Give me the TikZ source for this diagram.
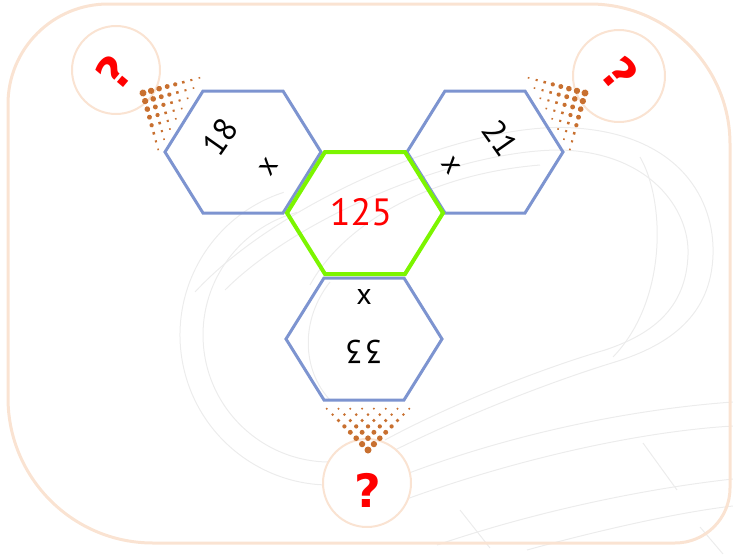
\documentclass[tikz,border=0pt]{standalone}
\usepackage{fontspec}
\setmainfont{PT Sans}
\newfontfamily\qfont{DejaVu Sans}
\definecolor{hexblue}{RGB}{125,148,208}
\definecolor{hexgreen}{RGB}{124,245,0}
\definecolor{peach}{RGB}{250,227,210}
\definecolor{dotbrown}{RGB}{200,112,48}
\definecolor{bggray}{RGB}{236,236,236}
\definecolor{qred}{RGB}{255,0,0}
\tikzset{
  bgline/.style={draw=bggray, line width=1pt},
  bluehex/.style={draw=hexblue, line width=3pt, line join=miter},
  greenhex/.style={draw=hexgreen, line width=4pt, line join=miter},
  qcircle/.style={draw=peach, line width=2pt, fill=white},
  frameline/.style={draw=peach, line width=3pt},
  bignum/.style={font=\fontsize{38}{38}\selectfont, inner sep=0pt},
  numtxt/.style={font=\fontsize{33}{33}\selectfont, inner sep=0pt},
  multxt/.style={font=\fontsize{30}{30}\selectfont, inner sep=0pt},
  qtxt/.style={font=\qfont\bfseries\fontsize{46}{46}\selectfont, text=qred, inner sep=0pt},
}
\newcommand{\dotfan}[3]{%
  \begin{scope}[shift={(#1,#2)}, rotate=#3]
    \foreach \k in {0,...,7}{
      \foreach \j in {0,...,\k}{
        \pgfmathsetmacro{\dx}{5.9*(2*\j-\k)}
        \pgfmathsetmacro{\dy}{-5.9*\k}
        \pgfmathsetmacro{\rr}{3.5-0.34*\k}
        \fill[dotbrown] (\dx,\dy) circle[radius=\rr pt];
      }
    }
  \end{scope}}
\begin{document}
\begin{tikzpicture}[x=1pt,y=-1pt]
\useasboundingbox (0,0) rectangle (733,554);
% background decorative curves
\draw[bgline] (330,335) ++(80:150) arc[start angle=80, end angle=252, radius=150];
\draw[bgline] (330,335) ++(85:127) arc[start angle=85, end angle=255, radius=127];
\draw[bgline] (195,292) .. controls (280,200) and (470,120) .. (575,128) .. controls (680,135) and (715,200) .. (713,255) .. controls (711,315) and (670,345) .. (615,362) .. controls (540,385) and (440,425) .. (360,468);
\draw[bgline] (225,290) .. controls (300,215) and (460,150) .. (560,150) .. controls (650,152) and (690,210) .. (688,255) .. controls (686,310) and (650,335) .. (605,350) .. controls (530,372) and (440,410) .. (385,440);
\draw[bgline] (310,285) .. controls (340,230) and (420,175) .. (540,165);
\draw[bgline] (640,157) .. controls (665,200) and (668,300) .. (613,357);
\draw[bgline] (330,282) .. controls (300,320) and (302,370) .. (330,400);
\draw[bgline] (360,493) .. controls (480,440) and (620,410) .. (733,402);
\draw[bgline] (370,513) .. controls (490,465) and (630,432) .. (733,426);
\draw[bgline] (437,545) .. controls (540,510) and (650,488) .. (733,479);
\draw[bgline] (527,550) .. controls (600,530) and (680,512) .. (733,506);
\draw[bgline] (643,443) -- (677,490);
\draw[bgline] (460,510) -- (490,548);
\draw[bgline] (700,527) -- (723,554);
% frame
\draw[frameline] (8,104) .. controls (8,48.8) and (52.8,4) .. (108,4) -- (590,4) .. controls (667.3,4) and (730,66.7) .. (730,144) -- (730,488) .. controls (730,518.4) and (705.4,543) .. (675,543) -- (153,543) .. controls (72.9,543) and (8,478.1) .. (8,398) -- cycle;
% circles
\coordinate (cl) at (116,70);
\coordinate (cr) at (619,76);
\coordinate (cb) at (367,483);
\draw[qcircle] (cl) circle[radius=44pt];
\draw[qcircle] (cr) circle[radius=46pt];
\draw[qcircle] (cb) circle[radius=44pt];
% dot fans
\dotfan{143}{93}{-120}
\dotfan{585}{93}{120}
\dotfan{368}{450}{0}
% hexagons
\coordinate (hl) at (243,152);
\coordinate (hr) at (485,152);
\coordinate (hb) at (364,339);
\coordinate (hc) at (365,213);
\draw[bluehex, shift={(hl)}] (-78,0) -- (-40,-61) -- (40,-61) -- (78,0) -- (40,61) -- (-40,61) -- cycle;
\draw[bluehex, shift={(hr)}] (-78,0) -- (-40,-61) -- (40,-61) -- (78,0) -- (40,61) -- (-40,61) -- cycle;
\draw[bluehex, shift={(hb)}] (-78,0) -- (-40,-61) -- (40,-61) -- (78,0) -- (40,61) -- (-40,61) -- cycle;
\draw[greenhex, shift={(hc)}] (-78,0) -- (-40,-61) -- (40,-61) -- (78,0) -- (40,61) -- (-40,61) -- cycle;
% texts
\node[bignum, text=qred] (t125) at (361,212) {125};
\node[numtxt, rotate=55] (t18) at (220,137) {18};
\node[multxt, rotate=55] (x18) at (269,167) {x};
\node[numtxt, rotate=-55] (t21) at (500,138) {21};
\node[multxt, rotate=-55] (x21) at (451,166) {x};
\node[numtxt, rotate=180] (t33) at (364,352) {3\kern2pt 3};
\node[multxt] (x33) at (364,297) {x};
\node[qtxt, rotate=50] (ql) at (114,72) {?};
\node[qtxt, rotate=-50] (qr) at (620,74) {?};
\node[qtxt] (qb) at (368,490) {?};
\end{tikzpicture}
\end{document}
